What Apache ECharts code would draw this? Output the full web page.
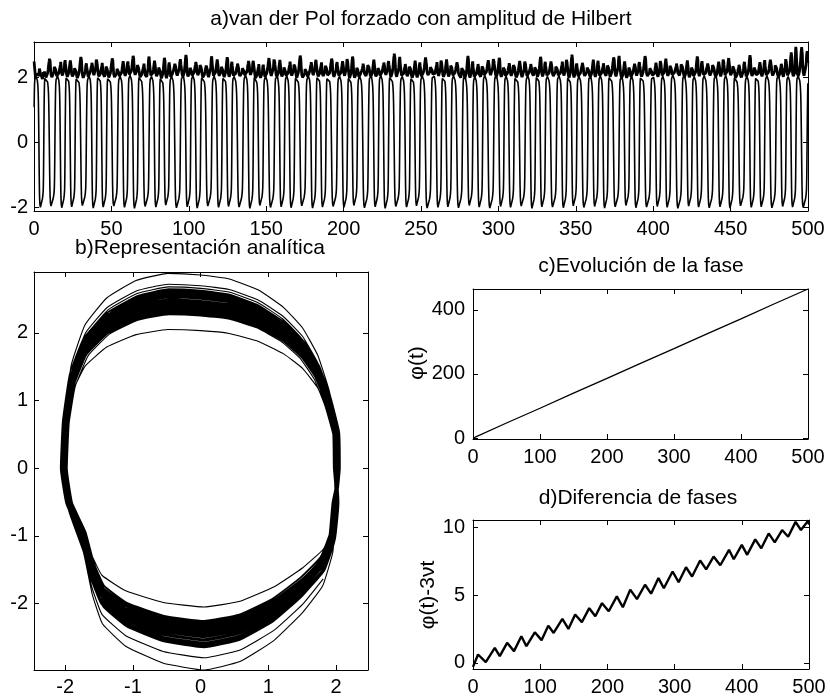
<!DOCTYPE html>
<html>
<head>
<meta charset="utf-8">
<script src="https://cdn.jsdelivr.net/npm/echarts@6/dist/echarts.min.js"></script>
<style>
html, body { margin: 0; padding: 0; background: #fff; }
#main { width: 830px; height: 700px; }
</style>
</head>
<body>
<div id="main"></div>
<script>
// one turn of the analytic signal (x, Hilbert of x), counter-clockwise from the right
var loopX = [2.02, 2.01, 1.88, 1.72, 1.5, 1.22, 0.85, 0.42, 0.0, -0.48, -0.95, -1.38, -1.7, -1.9, -2.0,
    -2.03, -1.95, -1.73, -1.6, -1.45, -1.1, -0.55, 0.05, 0.58, 1.08, 1.5, 1.8, 1.95, 2.0];
var loopY = [0.0, 0.5, 1.0, 1.42, 1.76, 2.02, 2.24, 2.38, 2.43, 2.45, 2.36, 2.14, 1.8, 1.3, 0.65,
    0.0, -0.5, -1.0, -1.5, -1.85, -2.12, -2.32, -2.4, -2.3, -2.05, -1.72, -1.4, -1.0, -0.5];
// relative time spent on each step of the turn (slow on the sides, fast across top and bottom)
var loopDt = [2.0, 2.0, 1.4, 0.9, 0.6, 0.5, 0.45, 0.45, 0.45, 0.45, 0.5, 0.6, 0.9, 1.4, 2.0,
    2.0, 2.0, 1.4, 0.9, 0.6, 0.5, 0.45, 0.45, 0.45, 0.5, 0.6, 0.9, 1.4, 2.0];

// per cycle: duration, top and bottom of the Hilbert part, right edge of x
var firstStart = -5.1;
var cyclePeriod = [
    6.40, 6.45, 7.40, 6.35, 6.50, 7.45, 6.45, 6.40, 7.35, 6.40,
    6.50, 7.40, 6.35, 6.45, 7.45, 6.40, 6.45, 7.35, 6.45, 6.40,
    7.40, 6.40, 6.50, 7.35, 6.35, 6.45, 7.45, 6.40, 6.45, 7.40,
    6.45, 6.40, 7.35, 6.40, 6.50, 7.40, 6.35, 6.45, 7.45, 6.40,
    6.45, 7.35, 6.45, 6.40, 7.40, 6.40, 6.50, 7.40, 6.35, 6.45,
    7.45, 6.40, 6.45, 7.35, 6.45, 6.40, 7.40, 6.40, 6.50, 7.35,
    6.35, 6.45, 7.45, 6.40, 6.45, 7.40, 6.45, 6.40, 7.35, 6.40,
    6.50, 7.40, 6.35, 6.45, 7.40];
var cycleTop = [
    2.50, 2.05, 2.52, 2.33, 2.47, 2.58, 2.39, 2.30, 2.53, 2.44,
    2.61, 2.28, 2.46, 2.55, 2.36, 2.64, 2.42, 2.31, 2.50, 2.57,
    2.37, 2.45, 2.27, 2.54, 2.48, 2.34, 2.62, 2.41, 2.32, 2.52,
    2.44, 2.59, 2.30, 2.49, 2.40, 2.68, 2.35, 2.46, 2.56, 2.33,
    2.50, 2.41, 2.61, 2.29, 2.47, 2.55, 2.38, 2.45, 2.28, 2.58,
    2.43, 2.34, 2.65, 2.39, 2.49, 2.31, 2.56, 2.44, 2.36, 2.60,
    2.40, 2.52, 2.30, 2.47, 2.59, 2.37, 2.43, 2.54, 2.33, 2.63,
    2.41, 2.49, 2.36, 2.72, 2.88];
var cycleBot = [
    -2.62, -2.05, -2.36, -2.52, -2.28, -2.42, -2.58, -2.35, -2.26, -2.48,
    -2.40, -2.63, -2.31, -2.45, -2.55, -2.30, -2.41, -2.64, -2.34, -2.47,
    -2.27, -2.50, -2.38, -2.59, -2.32, -2.44, -2.25, -2.53, -2.39, -2.46,
    -2.61, -2.33, -2.42, -2.29, -2.49, -2.62, -2.36, -2.45, -2.31, -2.55,
    -2.41, -2.26, -2.48, -2.37, -2.60, -2.32, -2.43, -2.52, -2.28, -2.47,
    -2.35, -2.57, -2.42, -2.30, -2.50, -2.39, -2.65, -2.34, -2.46, -2.27,
    -2.54, -2.38, -2.44, -2.32, -2.49, -2.41, -2.59, -2.35, -2.47, -2.30,
    -2.52, -2.40, -2.61, -2.98, -2.80];
var cycleRight = [
    2.00, 2.03, 1.99, 2.04, 2.01, 1.97, 2.05, 2.02, 1.99, 2.03,
    2.06, 2.00, 2.02, 1.96, 2.04, 2.01, 2.05, 1.99, 2.03, 2.00,
    2.02, 2.06, 1.97, 2.03, 2.01, 2.04, 1.98, 2.05, 2.02, 2.00,
    2.03, 1.97, 2.04, 2.01, 2.06, 2.00, 2.02, 1.98, 2.05, 2.03,
    2.01, 2.04, 1.97, 2.02, 2.05, 2.00, 2.03, 1.99, 2.06, 2.01,
    2.02, 2.04, 1.98, 2.03, 2.00, 2.05, 2.01, 1.97, 2.04, 2.02,
    2.00, 2.03, 2.06, 1.99, 2.02, 2.04, 2.01, 2.05, 1.98, 2.03,
    2.01, 2.04, 2.00, 2.02, 2.03];

// panel c: phase
var phaseT = [0, 50, 100, 150, 200, 250, 300, 350, 400, 450, 500];
var phaseVal = [0, 47, 93, 140, 186, 233, 279, 326, 372, 419, 465];

// panel d: phase difference, peaks and troughs of the sawtooth
var diffT = [0, 7.5, 19, 32.4, 39.8, 50.8, 61, 72, 79.5, 92, 102, 112, 120, 133, 142, 152, 162, 173, 182, 192,
    202, 214, 223, 234, 244, 256, 265, 276, 284, 297, 306, 317, 326, 338, 347, 358, 368, 381, 388, 400,
    408, 420, 429, 440, 449, 460, 469, 480, 488, 499, 500];
var diffVal = [-0.3, 0.61, 0.05, 1.10, 0.49, 1.47, 0.86, 1.96, 1.22, 2.25, 1.67, 2.74, 2.2, 3.24, 2.5, 3.56, 3.0, 4.03, 3.43, 4.4,
    3.8, 4.9, 4.1, 5.4, 4.7, 5.76, 5.1, 6.25, 5.5, 6.74, 5.95, 7.05, 6.37, 7.55, 6.9, 7.84, 7.2, 8.34, 7.64, 8.7,
    7.97, 9.11, 8.45, 9.55, 8.89, 9.8, 9.3, 10.4, 9.8, 10.5, 10.2];

var loopTop = Math.max.apply(null, loopY);
var loopBot = Math.min.apply(null, loopY);
var dtSum = loopDt.reduce(function (s, v) { return s + v; }, 0);

var signal = [], envelope = [], plane = [];
var start = firstStart;
for (var k = 0; k < cyclePeriod.length; k++) {
    var acc = 0;
    for (var j = 0; j < loopX.length; j++) {
        var t = start + acc / dtSum * cyclePeriod[k];
        acc += loopDt[j];
        if (t < 0 || t > 500) continue;
        var x = loopX[j] * cycleRight[k] / loopX[0];
        var y = loopY[j] >= 0 ? loopY[j] * cycleTop[k] / loopTop : loopY[j] * cycleBot[k] / loopBot;
        signal.push([t, x]);
        envelope.push([t, Math.sqrt(x * x + y * y)]);
        plane.push([x, y]);
    }
    start += cyclePeriod[k];
}

var font = 'Liberation Sans, Arial, sans-serif';

function axis(grid, pos, min, max, step, ticks, labels, margin) {
    var a = {
        type: 'value', gridIndex: grid, position: pos, min: min, max: max,
        splitLine: { show: false },
        axisLine: { show: true, onZero: false, lineStyle: { color: '#000', width: 1 } },
        axisTick: { show: true, inside: true, length: 5, lineStyle: { color: '#000', width: 1 } },
        axisLabel: { show: labels, color: '#000', fontSize: 20, fontFamily: font, margin: margin }
    };
    if (step) {
        a.interval = step;
    } else {
        a.axisLabel.customValues = ticks;
        a.axisTick.customValues = ticks;
    }
    return a;
}

function pair(grid, horiz, min, max, step, ticks, margin) {
    return [
        axis(grid, horiz ? 'bottom' : 'left', min, max, step, ticks, true, margin),
        axis(grid, horiz ? 'top' : 'right', min, max, step, ticks, false, margin)
    ];
}

function lineSeries(ix, data, width, smooth) {
    return {
        type: 'line', xAxisIndex: ix, yAxisIndex: ix, data: data, showSymbol: false, symbol: 'none',
        smooth: smooth || false,
        lineStyle: { color: '#000', width: width }, silent: true, animation: false
    };
}

function label(text, x, y, rot) {
    return {
        type: 'text', x: x, y: y, rotation: rot || 0,
        style: { text: text, fill: '#000', font: '21px ' + font, align: 'center', verticalAlign: 'middle' }
    };
}

var myChart = echarts.init(document.getElementById('main'), null, { renderer: 'canvas' });
var option = {
    backgroundColor: '#fff',
    animation: false,
    grid: [
        { left: 34, top: 42, width: 774, height: 169 },
        { left: 34, top: 272, width: 334, height: 398 },
        { left: 473, top: 289, width: 335, height: 150 },
        { left: 473, top: 520, width: 336, height: 149 }
    ],
    xAxis: [].concat(
        pair(0, true, 0, 500, 50, null, 8),
        pair(1, true, -2.46, 2.47, 0, [-2, -1, 0, 1, 2], 7),
        pair(2, true, 0, 500, 100, null, 8),
        pair(3, true, 0, 500, 100, null, 8)
    ),
    yAxis: [].concat(
        pair(0, false, -2.12, 3.08, 0, [-2, 0, 2], 6),
        pair(1, false, -2.98, 2.9, 0, [-2, -1, 0, 1, 2], 6),
        pair(2, false, -3, 465, 0, [0, 200, 400], 8),
        pair(3, false, -0.46, 10.54, 0, [0, 5, 10], 8)
    ),
    series: [
        lineSeries(0, signal, 1.6),
        lineSeries(0, envelope, 2.8),
        lineSeries(2, plane, 1.1, 0.12),
        lineSeries(4, phaseT.map(function (t, i) { return [t, phaseVal[i]]; }), 1.3),
        lineSeries(6, diffT.map(function (t, i) { return [t, diffVal[i]]; }), 2.4)
    ],
    graphic: [
        label('a)van der Pol forzado con amplitud de Hilbert', 421, 19),
        label('b)Representación analítica', 200, 248),
        label('c)Evolución de la fase', 641, 266),
        label('d)Diferencia de fases', 638, 498),
        label('φ(t)', 417, 363, Math.PI / 2),
        label('φ(t)-3νt', 428, 595, Math.PI / 2)
    ]
};
myChart.setOption(option);
</script>
</body>
</html>
